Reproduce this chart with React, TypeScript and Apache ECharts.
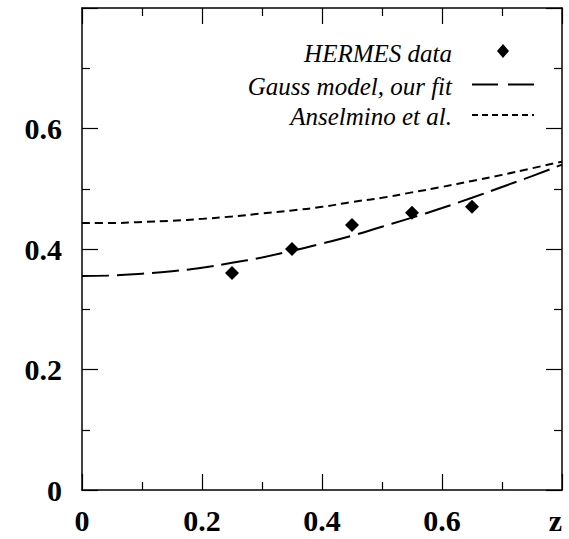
import React, { useEffect, useRef } from "react";
import * as echarts from "echarts";

const hermesZ = [0.25, 0.35, 0.45, 0.55, 0.65];
const hermesVal = [0.36, 0.40, 0.44, 0.46, 0.47];

const curveZ = [0, 0.05, 0.1, 0.15, 0.2, 0.25, 0.3, 0.35, 0.4, 0.45, 0.5, 0.55, 0.6, 0.65, 0.7, 0.75, 0.8];
const gaussVal = [0.355, 0.356, 0.359, 0.363, 0.369, 0.377, 0.386, 0.397, 0.409, 0.422, 0.437, 0.452, 0.468, 0.485, 0.503, 0.521, 0.540];
const anselminoVal = [0.443, 0.443, 0.445, 0.447, 0.450, 0.454, 0.459, 0.464, 0.470, 0.478, 0.485, 0.494, 0.503, 0.513, 0.523, 0.534, 0.545];

const legendNames = ["HERMES data", "Gauss model, our fit", "Anselmino et al."];

const FONT = "'Liberation Serif', 'Times New Roman', serif";

export default function App() {
  const ref = useRef<HTMLDivElement>(null);
  useEffect(() => {
    document.body.style.margin = "0";
    const chart = echarts.init(ref.current!, undefined, { renderer: "svg" });
    const axisLineStyle = { color: "#000", width: 1.5 };
    const mkX = (pos: "bottom" | "top", labels: boolean) => ({
      type: "value",
      position: pos,
      min: 0,
      max: 0.8,
      interval: 0.2,
      axisLine: { show: true, onZero: false, lineStyle: axisLineStyle },
      axisTick: { show: true, inside: true, length: 16, lineStyle: { color: "#000", width: 1.2 } },
      minorTick: { show: true, splitNumber: 2, length: 8, lineStyle: { color: "#000", width: 1.2 } },
      splitLine: { show: false },
      axisLabel: {
        show: labels,
        margin: 15,
        fontFamily: FONT,
        fontWeight: "bold",
        fontSize: 30,
        color: "#000",
        showMaxLabel: true,
        alignMaxLabel: "right",
        formatter: (v: number) => (Math.abs(v - 0.8) < 1e-6 ? "z" : v === 0 ? "0" : String(Math.round(v * 10) / 10)),
      },
    });
    const mkY = (pos: "left" | "right", labels: boolean) => ({
      type: "value",
      position: pos,
      min: 0,
      max: 0.8,
      interval: 0.2,
      axisLine: { show: true, onZero: false, lineStyle: axisLineStyle },
      axisTick: { show: true, inside: true, length: 16, lineStyle: { color: "#000", width: 1.2 } },
      minorTick: { show: true, splitNumber: 2, length: 8, lineStyle: { color: "#000", width: 1.2 } },
      splitLine: { show: false },
      axisLabel: {
        show: labels,
        margin: 20,
        fontFamily: FONT,
        fontWeight: "bold",
        fontSize: 30,
        color: "#000",
        showMaxLabel: false,
        formatter: (v: number) => (v === 0 ? "0" : String(Math.round(v * 10) / 10)),
      },
    });
    const legX = 452;
    const symX0 = 472;
    const symX1 = 534;
    const rows = [53, 86, 116];
    const lineRows = [51, 84.5, 115];
    chart.setOption({
      animation: false,
      grid: { left: 82, right: 7, top: 8, bottom: 49, containLabel: false },
      xAxis: [mkX("bottom", true), mkX("top", false)],
      yAxis: [mkY("left", true), mkY("right", false)],
      series: [
        {
          name: legendNames[1],
          type: "line",
          xAxisIndex: 0,
          yAxisIndex: 0,
          data: curveZ.map((z, i) => [z, gaussVal[i]]),
          smooth: true,
          showSymbol: false,
          lineStyle: { color: "#000", width: 2, type: [27, 8] },
        },
        {
          name: legendNames[2],
          type: "line",
          xAxisIndex: 0,
          yAxisIndex: 0,
          data: curveZ.map((z, i) => [z, anselminoVal[i]]),
          smooth: true,
          showSymbol: false,
          lineStyle: { color: "#000", width: 2, type: [8, 5] },
        },
        {
          name: legendNames[0],
          type: "scatter",
          xAxisIndex: 0,
          yAxisIndex: 0,
          data: hermesZ.map((z, i) => [z, hermesVal[i]]),
          symbol: "diamond",
          symbolSize: 14,
          itemStyle: { color: "#000", opacity: 1 },
        },
      ],
      graphic: [
        ...legendNames.map((n, i) => ({
          type: "text",
          x: legX,
          y: rows[i],
          style: {
            text: n,
            fontFamily: FONT,
            fontStyle: "italic",
            fontSize: 25,
            fill: "#000",
            textAlign: "right",
            textVerticalAlign: "middle",
          },
        })),
        {
          type: "polygon",
          shape: { points: [[503, lineRows[0] - 7], [509, lineRows[0]], [503, lineRows[0] + 7], [497, lineRows[0]]] },
          style: { fill: "#000" },
        },
        {
          type: "line",
          shape: { x1: symX0, y1: lineRows[1], x2: symX1, y2: lineRows[1] },
          style: { stroke: "#000", lineWidth: 2, lineDash: [26, 10] },
        },
        {
          type: "line",
          shape: { x1: symX0, y1: lineRows[2], x2: symX1, y2: lineRows[2] },
          style: { stroke: "#000", lineWidth: 2, lineDash: [6, 4] },
        },
      ],
    });
    return () => chart.dispose();
  }, []);
  return <div ref={ref} style={{ width: 569, height: 539 }} />;
}
